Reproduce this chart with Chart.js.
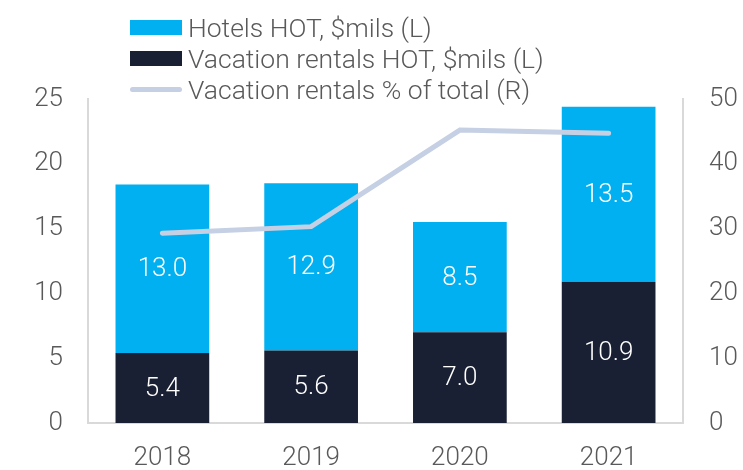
<!DOCTYPE html>
<html>
<head>
<meta charset="utf-8">
<script src="https://cdn.jsdelivr.net/npm/chart.js@4"></script>
<style>
    body { margin: 0; background: #fff; }
    #wrap { position: relative; width: 743px; height: 470px; }
    #legend {
        position: absolute; left: 130px; top: 12px;
        font-family: Roboto, sans-serif; font-weight: 300;
        font-size: 26.5px; line-height: 31px; color: #595959;
    }
    .row { display: flex; align-items: center; white-space: nowrap; }
    .box { width: 52px; height: 15px; margin-right: 6px; }
    .ln { width: 52px; height: 5px; border-radius: 3px; margin-right: 6px; }
</style>
</head>
<body>
<div id="wrap">
    <canvas id="HotChart" width="743" height="470"></canvas>
    <div id="legend"></div>
</div>
<script>
const years = ['2018', '2019', '2020', '2021'];
const hotels_HOT = [13.0, 12.9, 8.5, 13.5];
const rentals_HOT = [5.4, 5.6, 7.0, 10.9];
const rentals_pct = [29.3, 30.3, 45.2, 44.7];

const seriesNames = [
    'Hotels HOT, $mils (L)',
    'Vacation rentals HOT, $mils (L)',
    'Vacation rentals % of total (R)'
];

const blue = '#00b0f0';
const navy = '#1a2033';
const lineColor = '#c5d0e4';
const textColor = '#595959';
const axisColor = '#d9d9d9';

Chart.defaults.font.family = 'Roboto, sans-serif';
Chart.defaults.font.weight = 300;
Chart.defaults.color = textColor;

// white values in the middle of each bar segment
const barLabels = {
    id: 'barLabels',
    afterDatasetsDraw(chart) {
        const ctx = chart.ctx;
        ctx.save();
        ctx.font = '300 26px Roboto, sans-serif';
        ctx.fillStyle = '#fff';
        ctx.textAlign = 'center';
        ctx.textBaseline = 'middle';
        chart.data.datasets.forEach((ds, i) => {
            if (ds.type === 'line') return;
            chart.getDatasetMeta(i).data.forEach((bar, j) => {
                ctx.fillText(ds.data[j].toFixed(1), bar.x, (bar.y + bar.base) / 2 + 1);
            });
        });
        ctx.restore();
    }
};

const data_Hot = {
    labels: years,
    datasets: [{
        type: 'line',
        label: seriesNames[2],
        data: rentals_pct,
        yAxisID: 'y1',
        borderColor: lineColor,
        borderWidth: 5,
        borderCapStyle: 'round',
        pointRadius: 0,
        tension: 0,
        order: 0
    }, {
        label: seriesNames[1],
        data: rentals_HOT,
        backgroundColor: navy,
        yAxisID: 'y',
        stack: 's',
        order: 1
    }, {
        label: seriesNames[0],
        data: hotels_HOT,
        backgroundColor: blue,
        yAxisID: 'y',
        stack: 's',
        order: 1
    }]
};

const config_Hot = {
    type: 'bar',
    data: data_Hot,
    plugins: [barLabels],
    options: {
        responsive: false,
        animation: false,
        categoryPercentage: 1,
        barPercentage: 0.63,
        layout: { padding: { left: 0, right: 0, top: 99, bottom: 0 } },
        plugins: { legend: { display: false }, tooltip: { enabled: false } },
        scales: {
            x: {
                stacked: true,
                grid: { display: false, drawTicks: false },
                border: { display: true, color: axisColor, width: 2 },
                ticks: { font: { size: 26 }, padding: 20 },
                afterFit: (s) => { s.height = 47; }
            },
            y: {
                stacked: true,
                min: 0, max: 25,
                grid: { display: false, drawTicks: false },
                border: { display: true, color: axisColor, width: 2 },
                ticks: { stepSize: 5, font: { size: 26 }, padding: 25 },
                afterFit: (s) => { s.width = 88; }
            },
            y1: {
                position: 'right',
                min: 0, max: 50,
                grid: { display: false, drawTicks: false },
                border: { display: true, color: axisColor, width: 2 },
                ticks: { stepSize: 10, font: { size: 26 }, padding: 26 },
                afterFit: (s) => { s.width = 60; }
            }
        }
    }
};

const myChart_Hot = new Chart(document.getElementById('HotChart'), config_Hot);

// legend drawn as html rows
const legendEl = document.getElementById('legend');
const markers = [
    '<span class="box" style="background:' + blue + '"></span>',
    '<span class="box" style="background:' + navy + '"></span>',
    '<span class="ln" style="background:' + lineColor + '"></span>'
];
seriesNames.forEach((name, i) => {
    const row = document.createElement('div');
    row.className = 'row';
    row.innerHTML = markers[i] + '<span>' + name + '</span>';
    legendEl.appendChild(row);
});
</script>
</body>
</html>
